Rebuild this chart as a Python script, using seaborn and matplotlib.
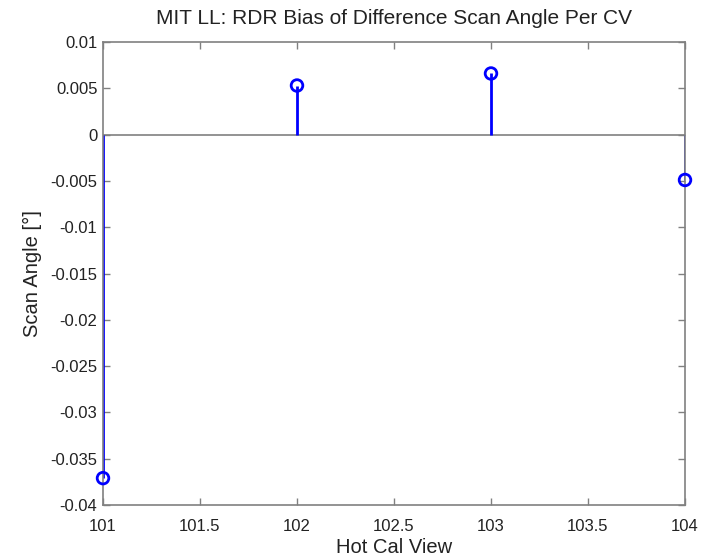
import matplotlib
matplotlib.use("Agg")
import matplotlib.pyplot as plt
import seaborn as sns
import pandas as pd

hot_cal_view = [101, 102, 103, 104]
scan_angle_bias = [-0.0371, 0.0053, 0.0066, -0.0049]
x_ticks = [101, 101.5, 102, 102.5, 103, 103.5, 104]
y_ticks = [-0.04, -0.035, -0.03, -0.025, -0.02, -0.015, -0.01, -0.005, 0, 0.005, 0.01]

df = pd.DataFrame({"view": hot_cal_view, "bias": scan_angle_bias})

sns.set_style("white")
plt.rcParams['font.family'] = ['Liberation Sans', 'DejaVu Sans']

fig = plt.figure(figsize=(7.1, 5.58), dpi=100)
ax = fig.add_axes([103/710, 1-505/558, (685-103)/710, (505-42)/558])

ax.axhline(0, color="#808080", lw=1.2, zorder=1)
ax.vlines(df["view"], 0, df["bias"], color="blue", lw=2, zorder=2)
sns.scatterplot(data=df, x="view", y="bias", ax=ax, marker="o", s=70,
                facecolor="none", edgecolor="blue", linewidth=2, zorder=3,
                clip_on=False)

ax.set_xlim(101, 104)
ax.set_ylim(-0.04, 0.01)
ax.set_xticks(x_ticks)
ax.set_xticklabels(["101", "101.5", "102", "102.5", "103", "103.5", "104"])
ax.set_yticks(y_ticks)
ax.set_yticklabels(["-0.04", "-0.035", "-0.03", "-0.025", "-0.02", "-0.015",
                    "-0.01", "-0.005", "0", "0.005", "0.01"])
ax.tick_params(direction="in", length=5, width=1, color="#808080",
               labelsize=12, top=True, right=True, bottom=True, left=True,
               labelcolor="#222222", pad=4)
ax.tick_params(axis="x", pad=10)
for s in ax.spines.values():
    s.set_color("#808080")
    s.set_linewidth(1.2)

ax.set_xlabel("Hot Cal View", fontsize=14.5, color="#222222", labelpad=3)
ax.set_ylabel("Scan Angle [°]", fontsize=14.5, color="#222222", labelpad=6)
ax.set_title("MIT LL: RDR Bias of Difference Scan Angle Per CV", fontsize=15,
             color="#222222", pad=13)

fig.savefig("out.png", dpi=100)
